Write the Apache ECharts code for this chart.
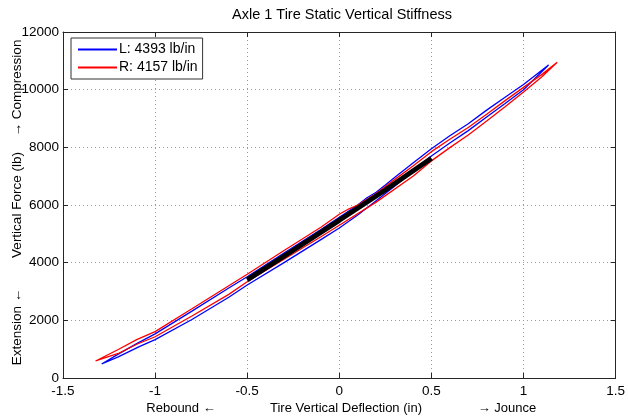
<!DOCTYPE html>
<html>
<head>
<meta charset="utf-8">
<script src="https://cdn.jsdelivr.net/npm/echarts@6/dist/echarts.min.js"></script>
<style>
html,body{margin:0;padding:0;background:#fff;}
#chart{width:628px;height:420px;}
</style>
</head>
<body>
<div id="chart"></div>
<script>
const xTicks = [-1.5, -1, -0.5, 0, 0.5, 1, 1.5];
const yTicks = [0, 2000, 4000, 6000, 8000, 10000, 12000];
const seriesNames = ['L: 4393 lb/in', 'R: 4157 lb/in'];

// Left tire (blue) loop: upper branch then lower branch back
const blueUpper = [[-1.29,486],[-1.2,830],[-1.1,1190],[-1.0,1530],[-0.8,2320],[-0.6,3120],[-0.5,3514],[-0.3,4330],[-0.1,5150],[0,5570],[0.1,6000],[0.15,6250],[0.2,6440],[0.25,6690],[0.3,6950],[0.4,7460],[0.5,7950],[0.6,8400],[0.7,8820],[0.8,9290],[0.9,9740],[1.0,10180],[1.136,10855]];
const blueLower = [[1.136,10855],[1.0,10000],[0.9,9520],[0.8,9050],[0.7,8580],[0.6,8150],[0.5,7700],[0.4,7170],[0.3,6650],[0.2,6150],[0.1,5650],[0,5200],[-0.1,4800],[-0.3,4000],[-0.5,3225],[-0.6,2800],[-0.8,2030],[-1.0,1330],[-1.086,1086],[-1.2,730],[-1.29,486]];
// Right tire (red) loop
const redUpper = [[-1.323,590],[-1.2,990],[-1.1,1330],[-1.0,1610],[-0.8,2400],[-0.6,3200],[-0.5,3596],[-0.3,4420],[-0.1,5230],[0,5680],[0.05,5860],[0.1,6000],[0.2,6400],[0.3,6880],[0.4,7350],[0.5,7850],[0.6,8280],[0.7,8690],[0.8,9150],[0.9,9620],[1.0,10080],[1.1,10530],[1.183,10948]];
const redLower = [[1.183,10948],[1.1,10450],[1.0,9920],[0.9,9410],[0.8,8910],[0.7,8430],[0.6,7990],[0.5,7530],[0.4,7000],[0.2,6100],[0,5300],[-0.1,4900],[-0.3,4120],[-0.5,3340],[-0.6,2900],[-0.8,2150],[-1.0,1430],[-1.1,1170],[-1.2,850],[-1.323,590]];
// Black small-amplitude band
const blackBand = [[-0.5,3400],[-0.25,4430],[0,5470],[0.25,6520],[0.5,7620]];

const FONT = 'Liberation Sans, Arial, sans-serif';
const chart = echarts.init(document.getElementById('chart'), null, {renderer:'canvas'});
const gridOpt = {left:63, right:7, top:32, bottom:42};
const axisCol = '#262626';
const xInt = xTicks[1]-xTicks[0], yInt = yTicks[1]-yTicks[0];

const option = {
  animation:false,
  backgroundColor:'#fff',
  grid: gridOpt,
  legend: {
    data: seriesNames,
    left:71, top:38, orient:'vertical', icon:'rect',
    backgroundColor:'#fff', borderColor:'#333', borderWidth:1, borderRadius:0,
    padding:[3,5,3,7], itemGap:1, itemWidth:39, itemHeight:2,
    textStyle:{fontFamily:FONT, fontSize:14, color:'#000', padding:[0,0,0,-3], lineHeight:17}
  },
  xAxis: [{
    type:'value', min:xTicks[0], max:xTicks[xTicks.length-1], interval:xInt,
    axisLine:{show:true, onZero:false, lineStyle:{color:axisCol, width:1}},
    axisTick:{show:true, inside:true, length:5, lineStyle:{color:axisCol}},
    axisLabel:{fontFamily:FONT, fontSize:13.5, color:'#000', margin:6, formatter:v=>String(v)},
    splitLine:{show:true, lineStyle:{color:'#9a9a9a', type:[1,3], width:1}}
  },{
    type:'value', position:'top', min:xTicks[0], max:xTicks[xTicks.length-1], interval:xInt,
    axisLine:{show:true, onZero:false, lineStyle:{color:axisCol, width:1}},
    axisTick:{show:true, inside:true, length:5, lineStyle:{color:axisCol}},
    axisLabel:{show:false}, splitLine:{show:false}
  }],
  yAxis: [{
    type:'value', min:yTicks[0], max:yTicks[yTicks.length-1], interval:yInt,
    axisLine:{show:true, onZero:false, lineStyle:{color:axisCol, width:1}},
    axisTick:{show:true, inside:true, length:5, lineStyle:{color:axisCol}},
    axisLabel:{fontFamily:FONT, fontSize:13.5, color:'#000', margin:4, formatter:v=>String(v)},
    splitLine:{show:true, lineStyle:{color:'#9a9a9a', type:[1,3], width:1}}
  },{
    type:'value', position:'right', min:yTicks[0], max:yTicks[yTicks.length-1], interval:yInt,
    axisLine:{show:true, onZero:false, lineStyle:{color:axisCol, width:1}},
    axisTick:{show:true, inside:true, length:5, lineStyle:{color:axisCol}},
    axisLabel:{show:false}, splitLine:{show:false}
  }],
  series: [
    {name:seriesNames[0], type:'line', symbol:'none', data:blueUpper.concat(blueLower),
     lineStyle:{color:'#0000ff', width:1.3}, itemStyle:{color:'#0000ff'}, z:2},
    {name:seriesNames[1], type:'line', symbol:'none', data:redUpper.concat(redLower),
     lineStyle:{color:'#ff0000', width:1.3}, itemStyle:{color:'#ff0000'}, z:3},
    {name:'band', type:'line', symbol:'none', data:blackBand,
     lineStyle:{color:'#000', width:5}, z:4}
  ],
  graphic: [
    {type:'text', x:342, y:15, style:{text:'Axle 1 Tire Static Vertical Stiffness', font:'14.5px '+FONT, fill:'#000', textAlign:'center', textVerticalAlign:'middle'}},
    {type:'text', x:181, y:408, style:{text:'Rebound ←', font:'13px '+FONT, fill:'#000', textAlign:'center', textVerticalAlign:'middle'}},
    {type:'text', x:346, y:408, style:{text:'Tire Vertical Deflection (in)', font:'13px '+FONT, fill:'#000', textAlign:'center', textVerticalAlign:'middle'}},
    {type:'text', x:507, y:408, style:{text:'→ Jounce', font:'13px '+FONT, fill:'#000', textAlign:'center', textVerticalAlign:'middle'}},
    {type:'text', x:17, y:205, rotation:Math.PI/2, style:{text:'Vertical Force (lb)', font:'13.5px '+FONT, fill:'#000', textAlign:'center', textVerticalAlign:'middle'}},
    {type:'text', x:17, y:88, rotation:Math.PI/2, style:{text:'→ Compression', font:'13.5px '+FONT, fill:'#000', textAlign:'center', textVerticalAlign:'middle'}},
    {type:'text', x:17, y:327, rotation:Math.PI/2, style:{text:'Extension ←', font:'13.5px '+FONT, fill:'#000', textAlign:'center', textVerticalAlign:'middle'}}
  ]
};
chart.setOption(option);
</script>
</body>
</html>
